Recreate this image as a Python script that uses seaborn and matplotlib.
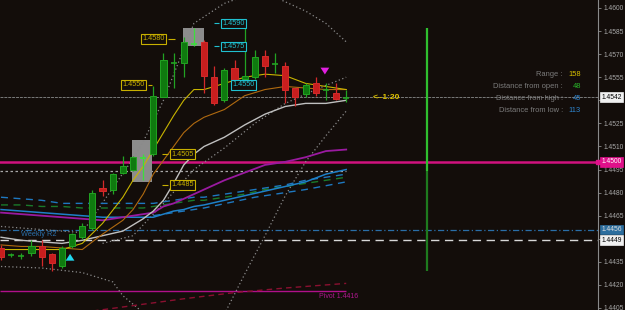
import matplotlib
matplotlib.use("Agg")
import matplotlib.pyplot as plt
import matplotlib.transforms as mtrans
from matplotlib.patches import Rectangle
import numpy as np
import seaborn as sns

plt.rcParams['font.family'] = ['Liberation Sans', 'DejaVu Sans']

# ---------------- data ----------------
bar_idx = list(range(35))
opens  = [1.4444, 1.4439, 1.4438, 1.4441, 1.4445, 1.4440, 1.4432, 1.4445, 1.4451, 1.4457,
          1.4483, 1.4482, 1.4493, 1.4495, 1.4502, 1.4505, 1.4542, 1.4564, 1.4564, 1.4576,
          1.4578, 1.4555, 1.4540, 1.4561, 1.4554, 1.4555, 1.4569, 1.4563, 1.4562, 1.4548,
          1.4544, 1.4551, 1.4546, 1.4545, 1.4541]
highs  = [1.4446, 1.4441, 1.4441, 1.4449, 1.4449, 1.4441, 1.4445, 1.4454, 1.4460, 1.4482,
          1.4488, 1.4493, 1.4504, 1.4504, 1.4505, 1.4549, 1.4571, 1.4571, 1.4581, 1.4587,
          1.4579, 1.4562, 1.4561, 1.4566, 1.4587, 1.4573, 1.4573, 1.4571, 1.4565, 1.4548,
          1.4551, 1.4555, 1.4551, 1.4551, 1.4547]
lows   = [1.4436, 1.4438, 1.4437, 1.4439, 1.4432, 1.4429, 1.4431, 1.4444, 1.4450, 1.4456,
          1.4478, 1.4479, 1.4492, 1.4494, 1.4488, 1.4504, 1.4542, 1.4548, 1.4555, 1.4575,
          1.4545, 1.4537, 1.4539, 1.4552, 1.4553, 1.4554, 1.4555, 1.4558, 1.4538, 1.4536,
          1.4542, 1.4543, 1.4540, 1.4540, 1.4539]
closes = [1.4438, 1.4440, 1.4439, 1.4445, 1.4438, 1.4434, 1.4444, 1.4453, 1.4458, 1.4480,
          1.4481, 1.4492, 1.4497, 1.4503, 1.4503, 1.4543, 1.4566, 1.4565, 1.4578, 1.4577,
          1.4556, 1.4538, 1.4560, 1.4553, 1.4556, 1.4568, 1.4562, 1.4564, 1.4547, 1.4542,
          1.4550, 1.4545, 1.4547, 1.4541, 1.4542]

ma_x = [0, 2, 4, 6, 8, 10, 12, 13, 14, 15, 16, 17, 18, 19, 20, 22, 24, 26, 28, 30, 32, 34]
ma_yellow = [1.4443, 1.4443, 1.4443, 1.4443, 1.4447, 1.4460, 1.4477, 1.4488, 1.4497, 1.4508, 1.4519,
             1.4530, 1.4540, 1.4547, 1.4547, 1.4551, 1.4555, 1.4557, 1.4556, 1.4551, 1.4549, 1.4547]
ma_orange = [1.4446, 1.4445, 1.4445, 1.4444, 1.4443, 1.4453, 1.4462, 1.4469, 1.4479, 1.4492, 1.4501,
             1.4510, 1.4519, 1.4525, 1.4529, 1.4534, 1.4543, 1.4547, 1.4549, 1.4548, 1.4547, 1.4547]
ma_white  = [1.4451, 1.4449, 1.4448, 1.4447, 1.4449, 1.4452, 1.4455, 1.4459, 1.4463, 1.4468, 1.4475,
             1.4486, 1.4498, 1.4505, 1.4510, 1.4516, 1.4524, 1.4531, 1.4536, 1.4538, 1.4538, 1.4540]
ma_purple = [1.4467, 1.4466, 1.4465, 1.4464, 1.4463, 1.4462, 1.4464, 1.4465, 1.4466, 1.4467, 1.4471,
             1.4473, 1.4476, 1.4479, 1.4482, 1.4488, 1.4493, 1.4498, 1.4500, 1.4503, 1.4507, 1.4508]
ma_blue   = [1.4469, 1.4468, 1.4467, 1.4466, 1.4465, 1.4464, 1.4464, 1.4464, 1.4464, 1.4464, 1.4466,
             1.4468, 1.4469, 1.4471, 1.4472, 1.4475, 1.4478, 1.4481, 1.4484, 1.4487, 1.4492, 1.4495]
ma_blue_dash = [1.4477, 1.4476, 1.4475, 1.4473, 1.4473, 1.4473, 1.4473, 1.4473, 1.4473, 1.4473, 1.4474,
                1.4475, 1.4476, 1.4477, 1.4477, 1.4479, 1.4481, 1.4483, 1.4485, 1.4488, 1.4490, 1.4492]
ma_green_dash = [1.4472, 1.4472, 1.4471, 1.4471, 1.4470, 1.4470, 1.4470, 1.4470, 1.4470, 1.4471, 1.4472,
                 1.4473, 1.4474, 1.4475, 1.4475, 1.4477, 1.4479, 1.4482, 1.4484, 1.4486, 1.4488, 1.4490]
ma_blue_dash2_x = [15, 20, 25, 30, 34]
ma_blue_dash2 = [1.4465, 1.4470, 1.4477, 1.4482, 1.4487]

band_up_x = [0, 4, 8, 11, 13, 14, 16, 19, 22, 25, 27, 28, 30, 32, 34]
band_up   = [1.4458, 1.4456, 1.4454, 1.4483, 1.4502, 1.4513, 1.4540, 1.4590, 1.4603, 1.4610,
             1.4607, 1.4604, 1.4598, 1.4590, 1.4578]
band_mid_x = [10, 13, 16, 19, 22, 25, 28, 31, 34]
band_mid   = [1.4447, 1.4452, 1.4473, 1.4495, 1.4509, 1.4525, 1.4538, 1.4547, 1.4555]
band_low_x = [0, 4, 8, 11, 12, 14, 17, 20, 22, 24, 26, 28, 30, 32, 34]
band_low   = [1.4432, 1.4431, 1.4428, 1.4422, 1.4413, 1.4402, 1.4387, 1.4384, 1.4401, 1.4427,
              1.4452, 1.4478, 1.4500, 1.4517, 1.4533]
red_dash_x = [9, 18, 23, 28, 34]
red_dash   = [1.4403, 1.4411, 1.4415, 1.4418, 1.4421]

current_price = 1.4542
day_open, day_high, day_low = 1.4494, 1.4587, 1.4429
round_level = 1.4500
weekly_r2 = 1.4456
white_level = 1.4449
pivot = 1.4416
session_idx = 42

yellow_tags = [1.4580, 1.4550, 1.4505, 1.4485]
cyan_tags = [1.4590, 1.4575, 1.4550]
box_x0 = [12.9, 17.95]
box_x1 = [14.9, 20.0]
box_lo = [1.4487, 1.4575]
box_hi = [1.4514, 1.4587]
up_arrow_idx, down_arrow_idx = 6.8, 31.9

y_ticks = [1.4600, 1.4585, 1.4570, 1.4555, 1.4540, 1.4525, 1.4510, 1.4495,
           1.4480, 1.4465, 1.4450, 1.4435, 1.4420, 1.4405]

# ---------------- figure ----------------
BG = '#130d0a'
W, H = 625, 310
PXI = 10.15  # pixels per bar
fig = plt.figure(figsize=(W / 100, H / 100), dpi=100)
fig.patch.set_facecolor(BG)
ax = fig.add_axes([0, 0, 598 / W, 1])
ax.set_facecolor(BG)
ax.set_xlim(-0.1, 58.8)
ax.set_ylim(1.44037, 1.46052)

def px(x):
    return x / PXI

# highlight boxes
for x0, x1, lo, hi in zip(box_x0, box_x1, box_lo, box_hi):
    ax.add_patch(Rectangle((x0, lo), x1 - x0, hi - lo, facecolor='#8c8c8c', edgecolor='none', zorder=2))

# horizontal levels
ax.axhline(current_price, color='#7a7a7a', lw=0.7, ls=(0, (3, 1)), zorder=1)
ax.axhline(round_level, color='#d0127f', lw=1.8, zorder=1)
ax.axhline(weekly_r2, color='#2a6ea8', lw=0.9, ls=(0, (5, 2, 1, 2)), zorder=1)
ax.axhline(white_level, color='#d8d8d8', lw=1.0, ls=(0, (6, 4)), zorder=1)
ax.hlines(day_open, -0.1, 34, color='#a8a8a8', lw=0.9, ls=(0, (2, 2)), zorder=1)
ax.hlines(pivot, -0.1, 34, color='#b0108a', lw=1.0, zorder=1)

# session range bar
ax.vlines(session_idx, day_open, day_high, color='#2fbf2f', lw=1.6, zorder=2)
ax.vlines(session_idx, day_low, day_open, color='#1e7a1e', lw=1.6, zorder=2)

# bands and MAs (seaborn)
dot = (0, (1, 2))
sns.lineplot(x=band_up_x, y=band_up, ax=ax, color='#8a8a8a', lw=0.9, linestyle=dot, zorder=2)
sns.lineplot(x=band_mid_x, y=band_mid, ax=ax, color='#8a8a8a', lw=0.9, linestyle=dot, zorder=2)
sns.lineplot(x=band_low_x, y=band_low, ax=ax, color='#8a8a8a', lw=0.9, linestyle=dot, zorder=2)
sns.lineplot(x=red_dash_x, y=red_dash, ax=ax, color='#8a1030', lw=1.0, linestyle=(0, (4, 3)), zorder=2)
sns.lineplot(x=ma_x, y=ma_blue_dash, ax=ax, color='#1e78c0', lw=1.0, linestyle=(0, (5, 4)), zorder=3)
sns.lineplot(x=ma_x, y=ma_green_dash, ax=ax, color='#1a7a2a', lw=1.0, linestyle=(0, (5, 4)), zorder=3)
sns.lineplot(x=ma_blue_dash2_x, y=ma_blue_dash2, ax=ax, color='#1e78c0', lw=1.0, linestyle=(0, (5, 4)), zorder=3)
sns.lineplot(x=ma_x, y=ma_blue, ax=ax, color='#1e80c8', lw=1.1, zorder=3)
sns.lineplot(x=ma_x, y=ma_purple, ax=ax, color='#9a1aa0', lw=1.3, zorder=3)
sns.lineplot(x=ma_x, y=ma_white, ax=ax, color='#c0c0c0', lw=1.0, zorder=3)
sns.lineplot(x=ma_x, y=ma_orange, ax=ax, color='#b06a10', lw=0.8, zorder=3)
sns.lineplot(x=ma_x, y=ma_yellow, ax=ax, color='#c8b400', lw=0.8, zorder=3)

# candles
w = 0.6
for i, o, h, l, c in zip(bar_idx, opens, highs, lows, closes):
    up = c >= o
    in_box = any(x0 <= i <= x1 for x0, x1 in zip(box_x0, box_x1)) and abs(c - o) < 0.00012
    fill = '#0f7a0f' if up else '#c81e1e'
    edge = ('#3be03b' if in_box else '#22a322') if up else '#d42a2a'
    ax.vlines(i, l, h, color=edge, lw=0.9, zorder=4)
    if abs(c - o) < 0.00012:
        ax.hlines((o + c) / 2, i - w / 2, i + w / 2, color=edge, lw=1.2, zorder=5)
    else:
        ax.bar(i, abs(c - o), bottom=min(o, c), width=w, color=fill, edgecolor=edge, lw=0.7, zorder=5)

# tags
def tag(x, y, s, col, zo=6):
    ax.text(x, y, s, color=col, fontsize=5.2, ha='center', va='center', zorder=zo,
            bbox=dict(boxstyle='square,pad=0.18', fc=BG, ec=col, lw=0.8))

ycol = '#c8b000'
ccol = '#20c0d0'
tag(px(152.5), yellow_tags[0], '%.4f' % yellow_tags[0], ycol)
ax.hlines(yellow_tags[0], px(167), px(174), color=ycol, lw=0.8, zorder=6)
tag(px(132.5), yellow_tags[1], '%.4f' % yellow_tags[1], ycol)
ax.hlines(yellow_tags[1], px(147), px(151), color=ycol, lw=0.8, zorder=6)
tag(px(181.5), yellow_tags[2], '%.4f' % yellow_tags[2], ycol)
ax.hlines(yellow_tags[2], px(161), px(167), color=ycol, lw=0.8, zorder=6)
tag(px(181.5), yellow_tags[3], '%.4f' % yellow_tags[3], ycol)
ax.hlines(yellow_tags[3], px(161), px(167), color=ycol, lw=0.8, zorder=6)
tag(px(232), cyan_tags[0], '%.4f' % cyan_tags[0], ccol)
ax.hlines(cyan_tags[0], px(213), px(218), color=ccol, lw=0.8, zorder=6)
tag(px(232), cyan_tags[1], '%.4f' % cyan_tags[1], ccol)
ax.hlines(cyan_tags[1], px(213), px(218), color=ccol, lw=0.8, zorder=6)
tag(px(242), cyan_tags[2], '%.4f' % cyan_tags[2], ccol)

# arrows
astyle = 'simple,head_width=0.9,head_length=0.7,tail_width=0.35'
ax.annotate('', xy=(up_arrow_idx, lows[7] - 0.0002), xytext=(up_arrow_idx, lows[7] - 0.0009),
            arrowprops=dict(arrowstyle=astyle, mutation_scale=7, color='#20d8f0', lw=0), zorder=7)
ax.annotate('', xy=(down_arrow_idx, highs[32] + 0.0004), xytext=(down_arrow_idx, highs[32] + 0.0011),
            arrowprops=dict(arrowstyle=astyle, mutation_scale=7, color='#e020e0', lw=0), zorder=7)

# texts
ax.text(px(372), current_price, '<--1:20', color='#e0c400', fontsize=6, fontweight='bold',
        ha='left', va='center', zorder=7)
ax.text(px(20), weekly_r2 - 0.0003, 'Weekly R2', color='#2a6ea8', fontsize=5.3,
        ha='left', va='center', zorder=7)
ax.text(px(318), pivot - 0.00035, 'Pivot %.4f' % pivot, color='#b01890', fontsize=5,
        ha='left', va='center', zorder=7)

pip = 10000
info = [('Range :', round((day_high - day_low) * pip), '#d8c000'),
        ('Distance from open :', round((current_price - day_open) * pip), '#28b428'),
        ('Distance from high :', round((day_high - current_price) * pip), '#2e86d0'),
        ('Distance from low :', round((current_price - day_low) * pip), '#2e86d0')]
for k, (lab, val, col) in enumerate(info):
    yy = 1 - (75 + 11.7 * k) / H
    ax.text(563 / 598, yy, lab, color='#7c7c7c', fontsize=5.4, ha='right', va='center',
            transform=ax.transAxes, zorder=7)
    ax.text(581 / 598, yy, str(val), color=col, fontsize=5.4, ha='right', va='center',
            transform=ax.transAxes, zorder=7)

# right axis
covered = [current_price, white_level]
for s in ['top', 'left', 'bottom']:
    ax.spines[s].set_visible(False)
ax.spines['right'].set_color('#8a8a8a')
ax.spines['right'].set_linewidth(0.8)
ax.set_xticks([])
ax.yaxis.tick_right()
ax.set_yticks(y_ticks)
ax.set_yticklabels(['' if any(abs(t - c) < 0.0006 for c in covered) else '%.4f' % t for t in y_ticks])
ax.tick_params(axis='y', color='#8a8a8a', labelcolor='#a8a8a8', labelsize=4.8,
               length=2, width=0.6, pad=2)

trans = mtrans.blended_transform_factory(ax.transAxes, ax.transData)
for val, fc, tc in [(current_price, '#f0f0f0', '#000000'), (round_level, '#e0108a', '#ffffff'),
                    (weekly_r2, '#2d6e9e', '#e0e0e0'), (white_level, '#f0f0f0', '#000000')]:
    ax.text(1.006, val, '%.4f' % val, transform=trans, color=tc, fontsize=4.8, ha='left',
            va='center', clip_on=False, zorder=8,
            bbox=dict(boxstyle='square,pad=0.2', fc=fc, ec=fc, lw=0.5))
ax.plot([1.0], [round_level], marker='s', ms=2.5, color='#e0108a', transform=trans,
        clip_on=False, zorder=8)

fig.savefig('out.png', dpi=100, facecolor=BG)
